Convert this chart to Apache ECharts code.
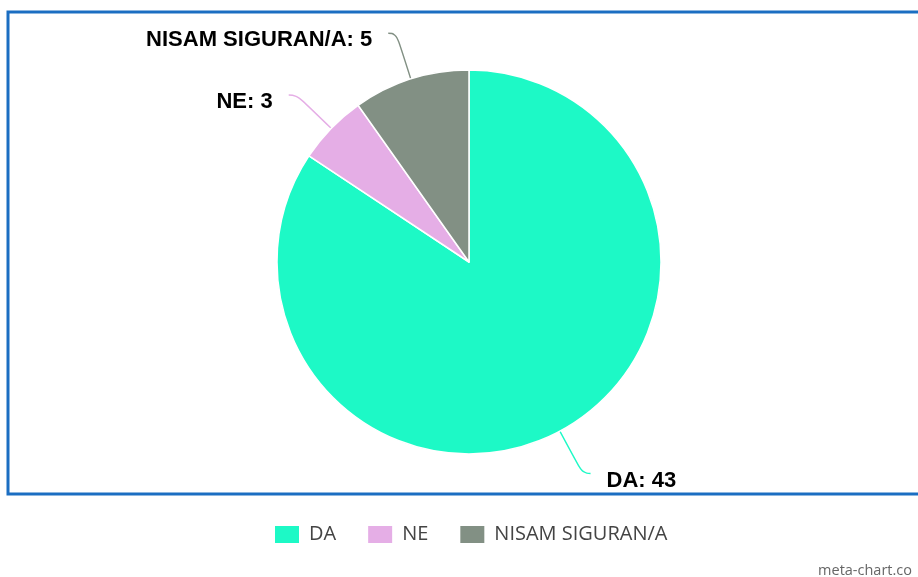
<!DOCTYPE html>
<html>
<head>
<meta charset="utf-8">
<script src="https://cdn.jsdelivr.net/npm/echarts@6/dist/echarts.min.js"></script>
<style>
  html, body { margin: 0; padding: 0; background: #fff; }
  #chart { width: 918px; height: 577px; }
</style>
</head>
<body>
<div id="chart"></div>
<script>
// answers and how many picked each
const categories = ['DA', 'NE', 'NISAM SIGURAN/A']
const counts = [43, 3, 5]
const colors = ['#1df9c6', '#e5aee6', '#829084']

const chart = echarts.init(document.getElementById('chart'))

chart.setOption({
	animation: false,
	color: colors,
	legend: {
		data: categories,
		left: 268,
		top: 519,
		itemWidth: 26,
		itemHeight: 19,
		itemGap: 30,
		icon: 'rect',
		textStyle: {
			fontFamily: 'Open Sans',
			fontSize: 20,
			color: '#444',
			padding: [0, 0, 0, 4]
		}
	},
	graphic: [{
		type: 'rect',
		shape: { x: 8, y: 12, width: 920, height: 482 },
		style: { fill: 'none', stroke: '#1b6ec2', lineWidth: 3 },
		z: 10
	}, {
		type: 'text',
		right: 6,
		top: 563,
		style: {
			text: 'meta-chart.co',
			fontFamily: 'Open Sans',
			fontSize: 14.5,
			fill: '#666'
		}
	}],
	series: [{
		type: 'pie',
		center: [469, 262],
		radius: 192,
		startAngle: 90,
		clockwise: true,
		itemStyle: {
			borderColor: '#fff',
			borderWidth: 1.5
		},
		label: {
			// empty first line pushes the text a little below the line end
			formatter: '{s|}\n{b}: {c}',
			fontFamily: 'Liberation Sans',
			fontWeight: 'bold',
			fontSize: 22,
			lineHeight: 26,
			color: '#000',
			distanceToLabelLine: 16,
			rich: {
				s: { height: 14, lineHeight: 14 }
			}
		},
		labelLine: {
			length: 48,
			length2: 8,
			smooth: 0.5,
			lineStyle: { width: 1.4 }
		},
		data: categories.map((name, i) => ({ name: name, value: counts[i] }))
	}]
})
</script>
</body>
</html>
